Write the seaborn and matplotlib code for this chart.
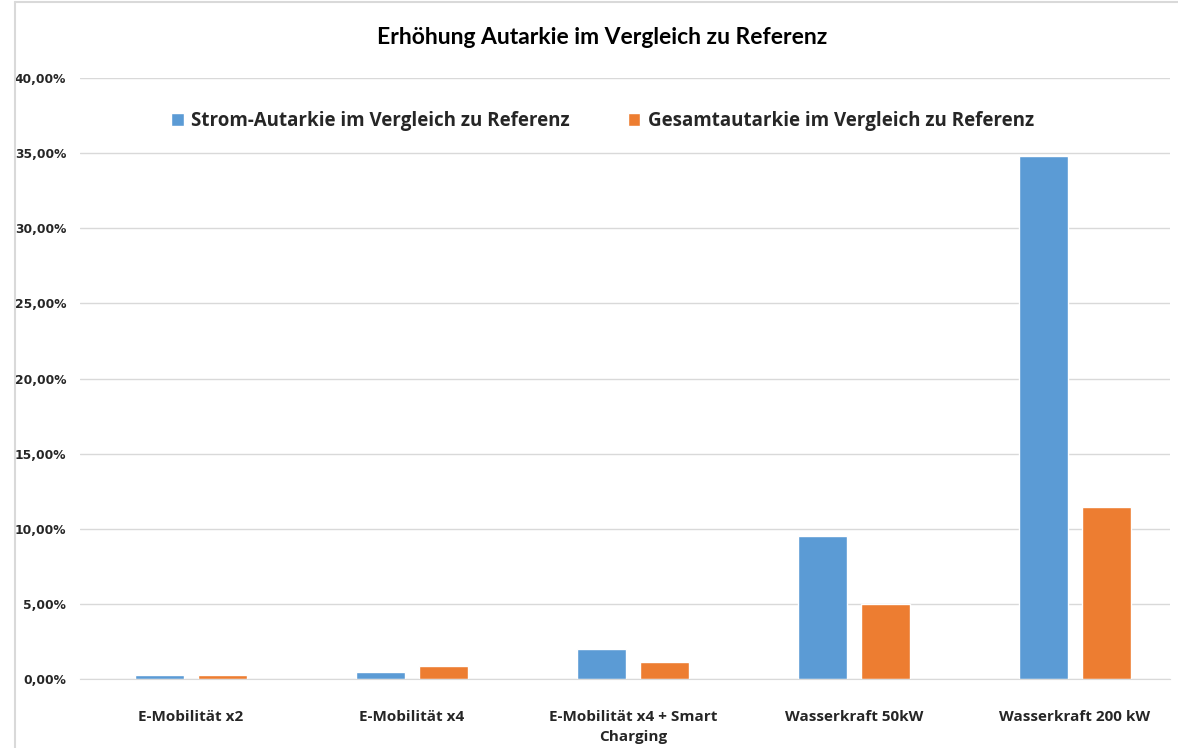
import matplotlib
matplotlib.use("Agg")
import matplotlib.pyplot as plt
import pandas as pd
import seaborn as sns
from matplotlib.ticker import FuncFormatter

# Daten
kategorien = ["E-Mobilität x2", "E-Mobilität x4", "E-Mobilität x4 + Smart\nCharging",
              "Wasserkraft 50kW", "Wasserkraft 200 kW"]
strom_autarkie = [0.0027, 0.0049, 0.0198, 0.0952, 0.3480]
gesamt_autarkie = [0.0027, 0.0085, 0.0113, 0.0499, 0.1145]
serien = ["Strom-Autarkie im Vergleich zu Referenz", "Gesamtautarkie im Vergleich zu Referenz"]
farben = ["#5B9BD5", "#ED7D31"]

df = pd.DataFrame({
    "kategorie": kategorien * 2,
    "wert": strom_autarkie + gesamt_autarkie,
    "serie": [serien[0]] * len(kategorien) + [serien[1]] * len(kategorien),
})

sns.set_style("white")
plt.rcParams["font.family"] = ["Lato", "DejaVu Sans"]

fig = plt.figure(figsize=(11.78, 7.48), dpi=100)
ax = fig.add_axes([80 / 1178, 69 / 748, (1170 - 80) / 1178, 601 / 748])

sns.barplot(data=df, x="kategorie", y="wert", hue="serie", palette=farben,
            width=0.57, gap=0.222, ax=ax, saturation=1, legend=True)

ax.set_ylim(0, 0.40)
ax.set_xlim(-0.5, 4.43)
ax.set_yticks([i * 0.05 for i in range(9)])
ax.yaxis.set_major_formatter(FuncFormatter(lambda v, p: f"{v * 100:.2f}%".replace(".", ",")))
ax.grid(axis="y", color="#D9D9D9", linewidth=1)
ax.set_axisbelow(True)
for s in ["top", "right", "left"]:
    ax.spines[s].set_visible(False)
ax.spines["bottom"].set_color("#D9D9D9")
ax.tick_params(axis="y", length=0, colors="#262626", pad=10, labelsize=8.8,
               labelfontfamily="DejaVu Sans")
ax.tick_params(axis="x", length=0, colors="#262626", pad=22, labelsize=11,
               labelfontfamily="Open Sans")
for lab in ax.get_yticklabels():
    lab.set_fontweight("bold")
for lab in ax.get_xticklabels():
    lab.set_fontweight("bold")
    lab.set_linespacing(1.6)
ax.set_xlabel("")
ax.set_ylabel("")

handles, labels = ax.get_legend_handles_labels()
ax.get_legend().remove()
fig.legend(handles, labels, loc="center", bbox_to_anchor=(0.5115, 1 - 121 / 748), ncol=2,
           frameon=False, prop={"family": "Open Sans", "weight": "bold", "size": 13.5},
           handlelength=0.65, handleheight=0.65, columnspacing=3.1, handletextpad=0.4,
           labelcolor="#262626")

fig.text(0.5115, 1 - 37 / 748, "Erhöhung Autarkie im Vergleich zu Referenz", ha="center", va="center",
         fontsize=16.5, fontweight="bold", color="#000000")

# Rahmen des Diagrammbereichs
fig.add_artist(plt.Line2D([0.013, 0.013], [0, 0.997], color="#D9D9D9", linewidth=1.5))
fig.add_artist(plt.Line2D([0.013, 1], [0.997, 0.997], color="#D9D9D9", linewidth=1.5))

fig.savefig("out.png", dpi=100)
